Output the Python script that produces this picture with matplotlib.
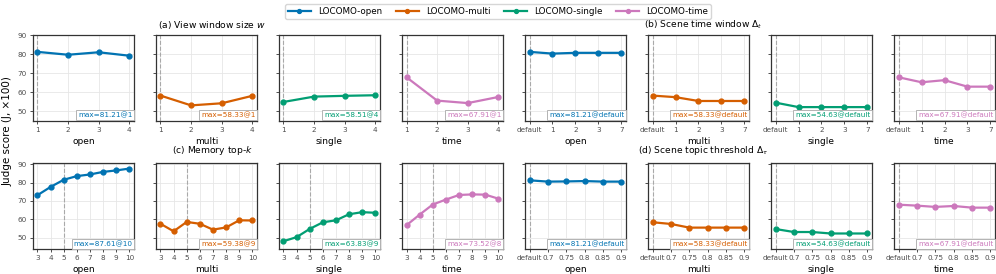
import numpy as np
import matplotlib
matplotlib.use("Agg")
import matplotlib.pyplot as plt

# ---------------------------
# data (judge score x100)
# ---------------------------
cats = ["open", "multi", "single", "time"]
colors = ["#0173b2", "#d55e00", "#029e73", "#cc78bc"]

# (a) view window size w
w_ticks = ["1", "2", "3", "4"]
w_open = [81.21, 79.7, 81.0, 79.2]
w_multi = [58.33, 53.2, 54.3, 58.2]
w_single = [55.0, 57.8, 58.2, 58.51]
w_time = [67.91, 55.7, 54.4, 57.6]

# (b) scene time window
t_ticks = ["default", "1", "2", "3", "7"]
t_open = [81.21, 80.3, 80.7, 80.7, 80.7]
t_multi = [58.33, 57.5, 55.5, 55.5, 55.5]
t_single = [54.63, 52.3, 52.3, 52.3, 52.3]
t_time = [67.91, 65.3, 66.4, 63.0, 63.0]

# (c) memory top-k
k_ticks = ["3", "4", "5", "6", "7", "8", "9", "10"]
k_open = [73.1, 77.6, 81.5, 83.5, 84.4, 85.8, 86.6, 87.61]
k_multi = [57.5, 53.4, 58.5, 57.5, 54.3, 55.5, 59.38, 59.3]
k_single = [48.0, 50.2, 54.7, 58.3, 59.4, 62.7, 63.83, 63.5]
k_time = [56.7, 62.5, 68.0, 70.7, 73.2, 73.52, 73.4, 71.2]

# (d) scene topic threshold
th_ticks = ["default", "0.7", "0.75", "0.8", "0.85", "0.9"]
th_open = [81.21, 80.5, 80.6, 80.8, 80.5, 80.5]
th_multi = [58.33, 57.4, 55.4, 55.4, 55.4, 55.4]
th_single = [54.63, 53.0, 53.0, 52.2, 52.2, 52.2]
th_time = [67.91, 67.4, 66.7, 67.2, 66.3, 66.3]

groups = [
    # row, first column, ticks, series, index of default
    (0, 0, w_ticks, [w_open, w_multi, w_single, w_time], 0),
    (0, 4, t_ticks, [t_open, t_multi, t_single, t_time], 0),
    (1, 0, k_ticks, [k_open, k_multi, k_single, k_time], 2),
    (1, 4, th_ticks, [th_open, th_multi, th_single, th_time], 0),
]

fig, axs = plt.subplots(2, 8, figsize=(9.96, 2.74), dpi=100)
fig.subplots_adjust(left=0.033, right=0.999, top=0.872, bottom=0.091,
                    wspace=0.218, hspace=0.50)

for row, col0, ticks, series, dflt in groups:
    x = np.arange(len(ticks))
    for i, (name, vals, c) in enumerate(zip(cats, series, colors)):
        ax = axs[row, col0 + i]
        ax.axvline(dflt, color="0.6", ls="--", lw=0.8, alpha=0.8, zorder=1)
        ax.plot(x, vals, color=c, lw=1.6, marker="o", ms=3.5, zorder=3,
                label="LOCOMO-" + name)
        ax.set_xticks(x)
        ax.set_xticklabels(ticks)
        ax.set_xlabel(name, fontsize=6.5, labelpad=3)
        ax.grid(True, color="0.9", lw=0.6)
        ax.set_axisbelow(True)
        ax.tick_params(labelsize=5.2, colors="0.3", length=2.5, width=0.7, pad=2)
        for sp in ax.spines.values():
            sp.set_color("0.2")
            sp.set_linewidth(0.9)
        ax.set_yticks([50, 60, 70, 80, 90])
        if row == 0:
            ax.set_ylim(45.2, 90)
        else:
            ax.set_ylim(43.7, 90.4)
        if col0 + i != 0:
            ax.set_yticklabels([])
        best = int(np.argmax(vals))
        ax.text(0.985, 0.025, "max=%.2f@%s" % (vals[best], ticks[best]),
                transform=ax.transAxes, ha="right", va="bottom",
                fontsize=5.2, color=c, zorder=5,
                bbox=dict(boxstyle="square,pad=0.25", fc="white", ec="0.7", lw=0.7))

handles = [axs[0, i].get_lines()[1] for i in range(4)]
fig.legend(handles, ["LOCOMO-" + n for n in cats], loc="upper center",
           bbox_to_anchor=(0.5, 1.0), ncol=4, fontsize=6.3, frameon=True,
           edgecolor="0.8", handlelength=2.6, columnspacing=1.6,
           borderpad=0.3, markerscale=0.8)

fig.text(0.213, 0.91, "(a) View window size $w$", ha="center", va="center", fontsize=6.6)
fig.text(0.706, 0.91, r"(b) Scene time window $\Delta_t$", ha="center", va="center", fontsize=6.6)
fig.text(0.213, 0.449, "(c) Memory top-$k$", ha="center", va="center", fontsize=6.6)
fig.text(0.706, 0.449, r"(d) Scene topic threshold $\Delta_\tau$", ha="center", va="center", fontsize=6.6)
fig.text(0.008, 0.52, "Judge score (J, ×100)", rotation=90, ha="center", va="center", fontsize=7.5)

plt.savefig("out.png", dpi=100)
